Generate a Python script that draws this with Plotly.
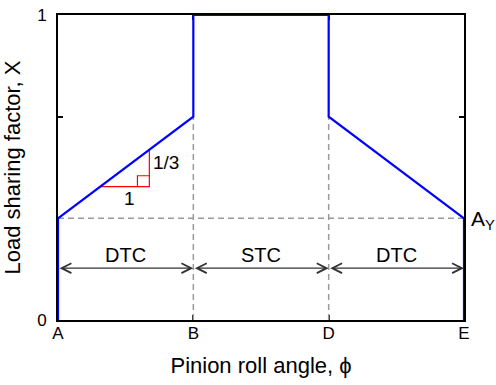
import plotly.graph_objects as go

# Load sharing factor X along the pinion roll angle
angle_pos = [0, 0, 1, 1, 2, 2, 3, 3]
load_share = [0, 1/3, 2/3, 1, 1, 2/3, 1/3, 0]

# Axis ticks
x_tickvals = [0, 1, 2, 3]
x_ticktext = ["A", "B", "D", "E"]
y_tickvals = [0, 2/3, 1]
y_ticktext = ["0", "", "1"]

# Guide levels
a_y_level = 1/3
b_d_level = 2/3
guide_x = [1, 2]

# Contact regions: (start, end, label)
region_start = [0, 1, 2]
region_end = [1, 2, 3]
region_label = ["DTC", "STC", "DTC"]
region_arrow_y = 0.17
region_text_y = 0.213

# Slope triangle on the first DTC ramp
tri_x = [0.31, 0.675, 0.675]
tri_y = [0.437, 0.437, 0.559]
sq_x = [0.587, 0.587, 0.675]
sq_y = [0.437, 0.473, 0.473]
tri_run_label = ("1", 0.527, 0.40)
tri_rise_label = ("1/3", 0.795, 0.515)

FONT = "Arial, Liberation Sans, Helvetica, sans-serif"
GUIDE = "#9a9a9a"
INK = "#333333"

fig = go.Figure()

# dashed guides
fig.add_trace(go.Scatter(x=[0, 3], y=[a_y_level, a_y_level], mode="lines",
                         line=dict(color=GUIDE, width=1.5, dash="6px,4px"),
                         hoverinfo="skip"))
for gx in guide_x:
    fig.add_trace(go.Scatter(x=[gx, gx], y=[0, b_d_level], mode="lines",
                             line=dict(color=GUIDE, width=1.5, dash="6px,4px"),
                             hoverinfo="skip"))

# slope triangle
fig.add_trace(go.Scatter(x=tri_x, y=tri_y, mode="lines",
                         line=dict(color="red", width=1.2), hoverinfo="skip"))
fig.add_trace(go.Scatter(x=sq_x, y=sq_y, mode="lines",
                         line=dict(color="red", width=1.2), hoverinfo="skip"))

# load sharing curve
fig.add_trace(go.Scatter(x=angle_pos, y=load_share, mode="lines",
                         line=dict(color="#0000ff", width=2.2),
                         cliponaxis=False, hoverinfo="skip"))

annotations = []
for xs, xe, lab in zip(region_start, region_end, region_label):
    annotations.append(dict(x=xe, y=region_arrow_y, ax=xs, ay=region_arrow_y,
                            xref="x", yref="y", axref="x", ayref="y",
                            text="", showarrow=True, arrowside="end+start",
                            arrowhead=5, startarrowhead=5,
                            arrowsize=1.6, startarrowsize=1.6,
                            arrowwidth=1.2, arrowcolor=INK))
    annotations.append(dict(x=(xs + xe) / 2, y=region_text_y, xref="x", yref="y",
                            text=lab, showarrow=False,
                            font=dict(family=FONT, size=20, color="black")))

for txt, tx, ty in [tri_run_label, tri_rise_label]:
    annotations.append(dict(x=tx, y=ty, xref="x", yref="y", text=txt,
                            showarrow=False,
                            font=dict(family=FONT, size=19, color="black")))

annotations.append(dict(x=3, y=a_y_level, xref="x", yref="y",
                        text="A<sub>Y</sub>", showarrow=False,
                        xanchor="left", xshift=5, yshift=-2,
                        font=dict(family=FONT, size=21, color="black")))

fig.update_layout(
    width=496, height=385,
    margin=dict(l=58, r=32, t=15, b=65, autoexpand=False),
    paper_bgcolor="white", plot_bgcolor="white",
    showlegend=False,
    font=dict(family=FONT, color="black"),
    annotations=annotations,
)

fig.update_xaxes(range=[0, 3], showgrid=False, zeroline=False, automargin=False,
                 showline=True, linecolor="black", linewidth=2, mirror="ticks",
                 ticks="inside", ticklen=5, tickwidth=1.5, tickcolor="black",
                 tickvals=x_tickvals, ticktext=x_ticktext,
                 tickfont=dict(family=FONT, size=17, color="black"),
                 ticklabelstandoff=-3,
                 layer="below traces",
                 title=dict(text="Pinion roll angle, \u03d5",
                            font=dict(family=FONT, size=22, color="black"),
                            standoff=15))
fig.update_yaxes(range=[0, 1], showgrid=False, zeroline=False, automargin=False,
                 showline=True, linecolor="black", linewidth=2, mirror="ticks",
                 ticks="inside", ticklen=5, tickwidth=1.5, tickcolor="black",
                 tickvals=y_tickvals, ticktext=y_ticktext,
                 tickfont=dict(family=FONT, size=17, color="black"),
                 ticklabelstandoff=6,
                 layer="below traces",
                 title=dict(text="Load sharing factor, X",
                            font=dict(family=FONT, size=22, color="black"),
                            standoff=12))

fig.write_html("out.html")
